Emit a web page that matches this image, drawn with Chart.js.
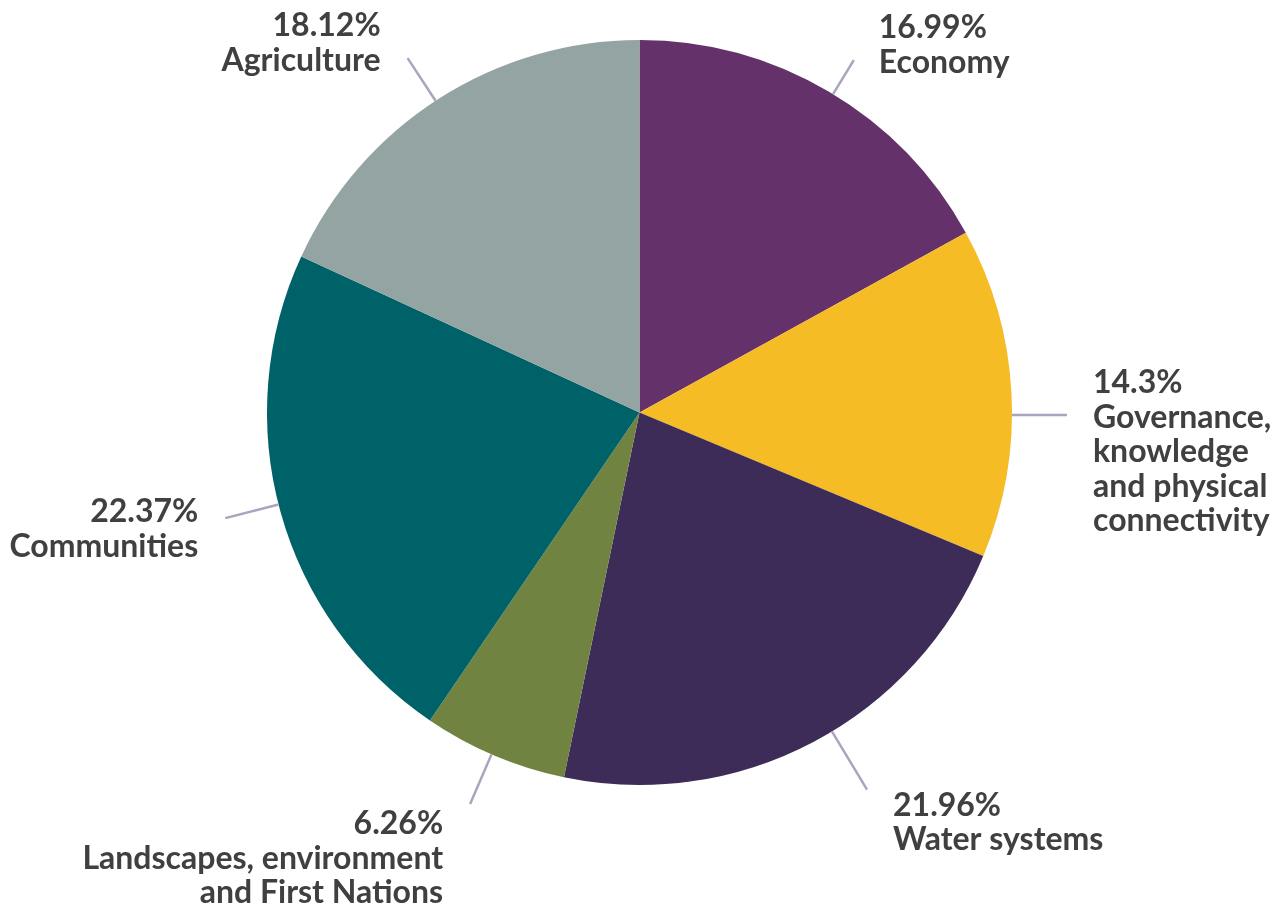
<!DOCTYPE html>
<html>
<head>
<meta charset="utf-8">
<title>Pie chart</title>
<script src="https://cdn.jsdelivr.net/npm/chart.js@4.4.1/dist/chart.umd.min.js"></script>
<style>
  html, body { margin: 0; padding: 0; background: #ffffff; }
  #wrap { width: 1282px; height: 909px; }
</style>
</head>
<body>
<div id="wrap"><canvas id="pieChart" width="1282" height="909"></canvas></div>
<script>
// --- Data ---
const categories = [
  'Economy',
  'Governance,\nknowledge\nand physical\nconnectivity',
  'Water systems',
  'Landscapes, environment\nand First Nations',
  'Communities',
  'Agriculture'
];
const shares = [16.99, 14.3, 21.96, 6.26, 22.37, 18.12];
const sliceColors = ['#64316a', '#f5bc26', '#3d2c58', '#718341', '#006269', '#93a4a3'];

// label placement: where the leader leaves the pie (deg clockwise from top),
// leader length and direction, text offset from the leader end
const labelPlacement = [
  { attach: 31.3,  len: 40, dir: 'r', dx: 25,  dy: -32, align: 'left' },
  { attach: 90.4,  len: 55, dir: 'h', dx: 26,  dy: -32, align: 'left' },
  { attach: 148.9, len: 68, dir: 'r', dx: 26,  dy: 16,  align: 'left' },
  { attach: 203.4, len: 54, dir: 'r', dx: -27, dy: 20,  align: 'right' },
  { attach: 255.7, len: 55, dir: 'r', dx: -27, dy: -6,  align: 'right' },
  { attach: 326.8, len: 51, dir: 'r', dx: -27, dy: -32, align: 'right' }
];

const LINE_H = 34.5;
const FONT = 'bold 32px Lato';

const leaderLabels = {
  id: 'leaderLabels',
  afterDraw(chart) {
    const ctx = chart.ctx;
    const meta = chart.getDatasetMeta(0);
    ctx.save();
    meta.data.forEach((arc, i) => {
      const p = labelPlacement[i];
      const r = arc.outerRadius;
      const a = (p.attach - 90) * Math.PI / 180;
      const sx = arc.x + r * Math.cos(a);
      const sy = arc.y + r * Math.sin(a);
      let ex, ey;
      if (p.dir === 'h') {
        ex = sx + (Math.cos(a) >= 0 ? p.len : -p.len);
        ey = sy;
      } else {
        ex = sx + p.len * Math.cos(a);
        ey = sy + p.len * Math.sin(a);
      }
      ctx.strokeStyle = '#aaa4bf';
      ctx.lineWidth = 2.5;
      ctx.beginPath();
      ctx.moveTo(sx, sy);
      ctx.lineTo(ex, ey);
      ctx.stroke();

      const lines = [shares[i] + '%'].concat(categories[i].split('\n'));
      ctx.fillStyle = '#404040';
      ctx.font = FONT;
      ctx.textAlign = p.align;
      ctx.textBaseline = 'middle';
      lines.forEach((t, k) => {
        ctx.fillText(t, ex + p.dx, ey + p.dy + k * LINE_H);
      });
    });
    ctx.restore();
  }
};

const ctx = document.getElementById('pieChart');

new Chart(ctx, {
  type: 'pie',
  data: {
    labels: categories,
    datasets: [{
      data: shares,
      backgroundColor: sliceColors,
      borderWidth: 0,
      hoverOffset: 0
    }]
  },
  options: {
    responsive: false,
    animation: false,
    layout: { padding: { left: 267, right: 270, top: 40, bottom: 124 } },
    plugins: {
      legend: { display: false },
      tooltip: { enabled: false }
    }
  },
  plugins: [leaderLabels]
});
</script>
</body>
</html>
